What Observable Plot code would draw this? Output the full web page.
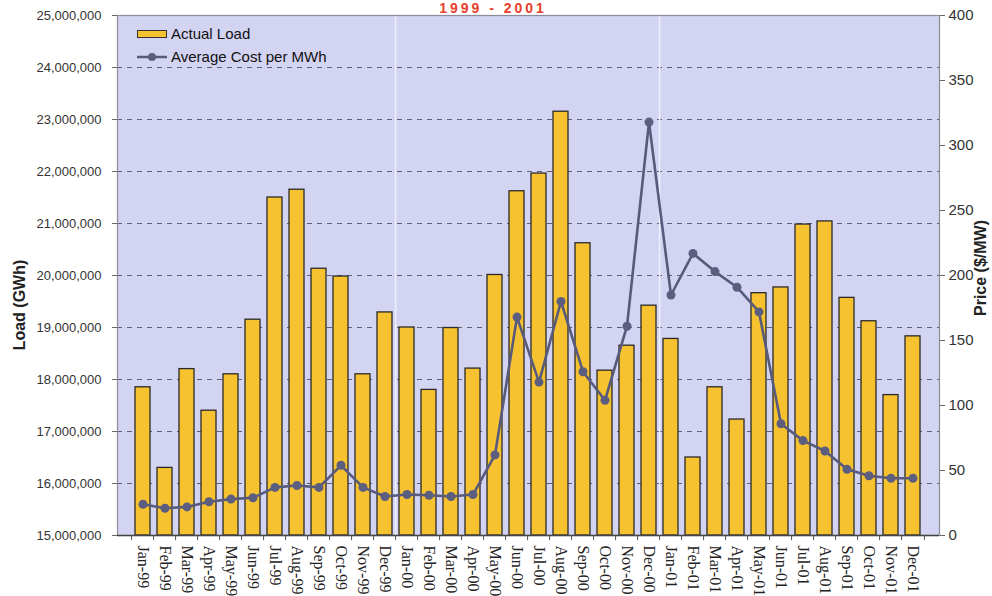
<!DOCTYPE html>
<html>
<head>
<meta charset="utf-8">
<script src="https://cdn.jsdelivr.net/npm/d3@7"></script>
<script src="https://cdn.jsdelivr.net/npm/@observablehq/plot@0.6"></script>
<style>
  body { margin: 0; background: #fff; }
  #wrap { position: relative; width: 992px; height: 596px; overflow: hidden; background: #fff; font-family: "Liberation Sans", Arial, sans-serif; }
  #chart { position: absolute; left: 0; top: 0; }
  .title { position: absolute; left: 0; width: 986px; top: 0px; text-align: center; font: bold 14px "Liberation Sans", Arial, sans-serif; letter-spacing: 3px; color: #e8402c; line-height: 16px; }
  .legend { position: absolute; left: 137px; top: 22px; font-size: 15px; color: #111; line-height: 22px; }
  .legend .row { display: flex; align-items: center; height: 23px; }
  .legend svg { margin-right: 4px; }
  .ytitle { position: absolute; font: bold 16px "Liberation Sans", Arial, sans-serif; color: #222; white-space: nowrap; transform: translate(-50%, -50%) rotate(-90deg); }
</style>
</head>
<body>
<div id="wrap">
  <div id="chart"></div>
  <div class="title">1999 - 2001</div>
  <div class="legend">
    <div class="row"><svg width="30" height="10"><rect x="0.5" y="1.5" width="29" height="7" fill="#f6c230" stroke="#333"/></svg><span>Actual Load</span></div>
    <div class="row"><svg width="30" height="10"><line x1="0" x2="30" y1="5" y2="5" stroke="#585a7c" stroke-width="2.5"/><circle cx="15" cy="5" r="4" fill="#5c5e80"/></svg><span>Average Cost per MWh</span></div>
  </div>
  <div class="ytitle" style="left:20px; top:305px;">Load (GWh)</div>
  <div class="ytitle" style="left:981px; top:268px;">Price ($/MW)</div>
</div>
<script>
// Monthly categories, January 1999 through December 2001
const months = [
  "Jan-99","Feb-99","Mar-99","Apr-99","May-99","Jun-99","Jul-99","Aug-99","Sep-99","Oct-99","Nov-99","Dec-99",
  "Jan-00","Feb-00","Mar-00","Apr-00","May-00","Jun-00","Jul-00","Aug-00","Sep-00","Oct-00","Nov-00","Dec-00",
  "Jan-01","Feb-01","Mar-01","Apr-01","May-01","Jun-01","Jul-01","Aug-01","Sep-01","Oct-01","Nov-01","Dec-01"
];

// Actual load per month (left axis)
const actualLoad = [
  17850000, 16300000, 18200000, 17400000, 18100000, 19150000, 21500000, 21650000, 20130000, 19980000, 18100000, 19290000,
  19000000, 17800000, 18990000, 18210000, 20010000, 21620000, 21960000, 23150000, 20620000, 18170000, 18650000, 19420000,
  18780000, 16500000, 17850000, 17230000, 19660000, 19770000, 20980000, 21040000, 19570000, 19120000, 17700000, 18830000
];

// Average cost per MWh (right axis, $/MW)
const avgCost = [
  24, 21, 22, 26, 28, 29, 37, 38.5, 37, 54, 37, 30,
  31.5, 31, 30, 31.5, 62, 168, 118, 180, 126, 104, 161, 318,
  185, 217, 203, 191, 172, 86, 73, 65, 51, 46, 44, 44
];

// Axis ranges and tick values
const loadTicks = d3.range(15000000, 25000001, 1000000);
const priceTicks = d3.range(0, 401, 50);
const yearStarts = ["Jan-00", "Jan-01"];

const LOAD_MIN = loadTicks[0], LOAD_MAX = loadTicks[loadTicks.length - 1];
const PRICE_MAX = priceTicks[priceTicks.length - 1];
// map a price onto the load axis so both series share one y scale
const priceToLoad = p => LOAD_MIN + p * (LOAD_MAX - LOAD_MIN) / PRICE_MAX;
const loadToPrice = v => Math.round((v - LOAD_MIN) * PRICE_MAX / (LOAD_MAX - LOAD_MIN));

const rows = months.map((m, i) => ({month: m, load: actualLoad[i], price: avgCost[i]}));

const W = 992, H = 596, mL = 117, mR = 53, mT = 15, mB = 61;
const step = (W - mL - mR) / months.length;

const bg = "#d3d3f2";
const lineColor = "#585a7c";

const chart = Plot.plot({
  width: W,
  height: H,
  marginLeft: mL,
  marginRight: mR,
  marginTop: mT,
  marginBottom: mB,
  style: {fontFamily: "'Liberation Sans', Arial, sans-serif", fontSize: "13px", color: "#333", background: "transparent"},
  x: {type: "band", domain: months, paddingInner: 0.3, paddingOuter: 0.15, label: null},
  y: {domain: [LOAD_MIN, LOAD_MAX], label: null},
  marks: [
    Plot.frame({fill: bg, stroke: null}),
    Plot.gridY(loadTicks.slice(1, -1), {stroke: "#4a4a5a", strokeOpacity: 0.85, strokeWidth: 1.2, strokeDasharray: "5,5"}),
    Plot.ruleX(yearStarts, {x: d => d, dx: -step / 2, stroke: "#eef0ff", strokeWidth: 1.5}),
    Plot.barY(rows, {x: "month", y1: LOAD_MIN, y2: "load", fill: "#f6c230", stroke: "#2a2a2a", strokeWidth: 1.3}),
    Plot.line(rows, {x: "month", y: d => priceToLoad(d.price), stroke: lineColor, strokeWidth: 2.6}),
    Plot.dot(rows, {x: "month", y: d => priceToLoad(d.price), r: 4.5, fill: "#5c5e80", stroke: null}),
    Plot.frame({stroke: "#8c8c9a", strokeWidth: 1.2}),
    Plot.ruleY([LOAD_MIN], {stroke: "#444", strokeWidth: 1.5}),
    // category boundary ticks under the x axis
    Plot.ruleX(months, {x: d => d, dx: -step / 2, y1: LOAD_MIN, y2: LOAD_MIN - 100000, stroke: "#555"}),
    Plot.ruleX(months.slice(-1), {x: d => d, dx: step / 2, y1: LOAD_MIN, y2: LOAD_MIN - 100000, stroke: "#555"}),
    Plot.axisY(loadTicks, {anchor: "left", tickFormat: d3.format(","), tickSize: 5, tickPadding: 11, fontSize: 13, stroke: "#666", label: null}),
    Plot.axisY(priceTicks.map(priceToLoad), {anchor: "right", tickFormat: loadToPrice, tickSize: 5, tickPadding: 4, fontSize: 15, stroke: "#666", label: null}),
    Plot.axisX({tickSize: 0, tickPadding: 10, tickRotate: 90, fontFamily: "'Liberation Serif', 'Times New Roman', serif", fontSize: 16, fill: "#222", label: null})
  ]
});

document.getElementById("chart").appendChild(chart);
</script>
</body>
</html>
